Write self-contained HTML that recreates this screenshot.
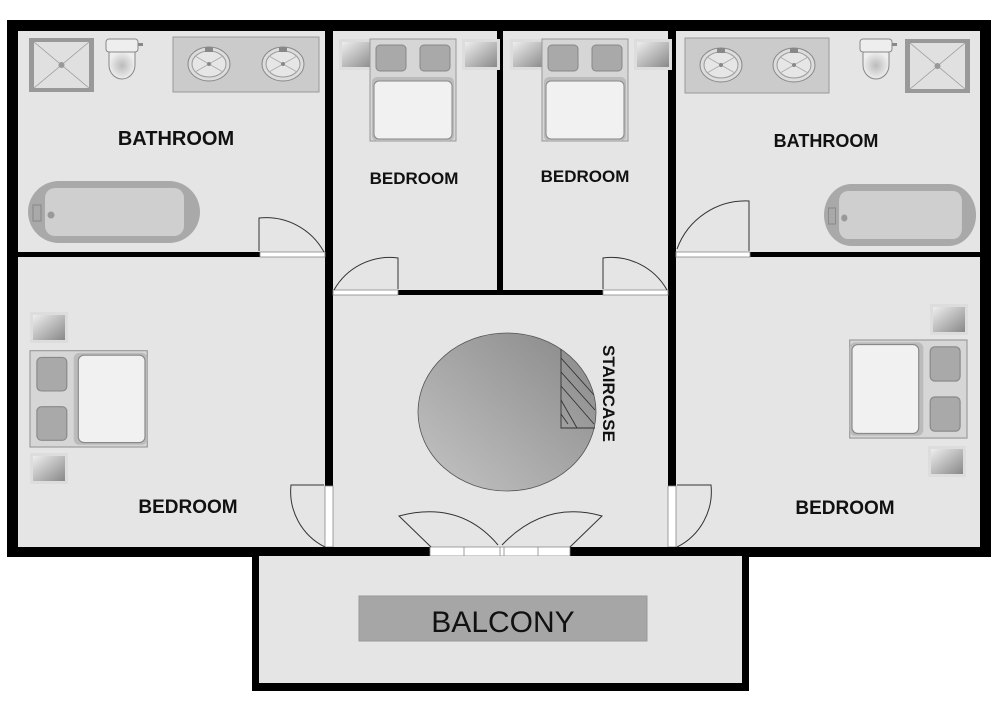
<!DOCTYPE html>
<html><head><meta charset="utf-8"><style>
html,body{margin:0;padding:0;background:#fff;width:1000px;height:704px;overflow:hidden}
svg{display:block}
text{font-family:"Liberation Sans",sans-serif;font-weight:bold;fill:#111}
</style></head><body>
<svg width="1000" height="704" viewBox="0 0 1000 704" xmlns="http://www.w3.org/2000/svg">
<defs>
<linearGradient id="st" x1="1" y1="0" x2="0" y2="1"><stop offset="0" stop-color="#888"/><stop offset="1" stop-color="#c4c4c4"/></linearGradient>
<linearGradient id="nt" x1="0" y1="0" x2="1" y2="1"><stop offset="0" stop-color="#eee"/><stop offset="1" stop-color="#888"/></linearGradient>
<radialGradient id="wc"><stop offset="0" stop-color="#bbb"/><stop offset="1" stop-color="#eee"/></radialGradient>
<g id="sink"><ellipse cx="0" cy="0" rx="21" ry="17" fill="#ddd" stroke="#888"/><ellipse cx="0" cy="0" rx="17" ry="13" fill="#e6e6e6" stroke="#999"/><path d="M-14,-8 L14,8 M-14,8 L14,-8" stroke="#aaa" stroke-width="0.8"/><circle r="2" fill="#888"/><rect x="-4" y="-17" width="8" height="5" fill="#888"/></g>
<g id="shower"><rect x="0" y="0" width="65" height="54" fill="#999"/><rect x="5" y="4" width="55" height="46" fill="#e0e0e0"/><path d="M5,4 L60,50 M60,4 L5,50" stroke="#999" stroke-width="0.8"/><circle cx="32.5" cy="27" r="3" fill="#999"/></g>
<g id="toilet"><rect x="-16" y="0" width="32" height="13" rx="3" fill="#eee" stroke="#888"/><path d="M-13,13 L-13,26 A13,14 0 0 0 13,26 L13,13 Z" fill="url(#wc)" stroke="#888"/><rect x="16" y="4" width="5" height="3" fill="#888"/></g>
<g id="tub"><rect x="0" y="0" width="172" height="62" rx="31" fill="#a9a9a9"/><rect x="17" y="7" width="139" height="48" rx="10" fill="#cfcfcf"/><rect x="5" y="24" width="8" height="16" fill="none" stroke="#888"/><circle cx="23" cy="34" r="3.5" fill="#999"/></g>
<g id="bedV"><rect x="0" y="0" width="86" height="102" fill="#d6d6d6" stroke="#999"/><rect x="6" y="6" width="30" height="26" rx="4" fill="#a9a9a9" stroke="#888"/><rect x="50" y="6" width="30" height="26" rx="4" fill="#a9a9a9" stroke="#888"/><rect x="2" y="38" width="82" height="64" rx="5" fill="#bbb"/><rect x="4" y="42" width="78" height="58" rx="5" fill="#f1f1f1" stroke="#888"/></g>
<g id="night"><rect x="0" y="0" width="38" height="31" fill="#ddd"/><rect x="3" y="3" width="32" height="25" fill="url(#nt)"/></g>
</defs>
<rect x="7" y="20" width="984" height="537" fill="#000"/>
<rect x="18" y="31" width="962" height="516" fill="#e6e5e6"/>
<rect x="325" y="31" width="8" height="455" fill="#000"/>
<rect x="497" y="31" width="6" height="262" fill="#000"/>
<rect x="668" y="31" width="8" height="455" fill="#000"/>
<rect x="18" y="252" width="242" height="5" fill="#000"/>
<rect x="750" y="252" width="230" height="5" fill="#000"/>
<rect x="398" y="290" width="205" height="5" fill="#000"/>
<g fill="#fff" stroke="#888" stroke-width="0.8">
<rect x="260" y="252" width="65" height="5"/><rect x="676" y="252" width="74" height="5"/>
<rect x="333" y="290" width="65" height="5"/><rect x="603" y="290" width="65" height="5"/>
<rect x="325" y="486" width="8" height="61"/><rect x="668" y="486" width="8" height="61"/>
</g>
<rect x="8" y="547" width="422" height="9" fill="#000"/><rect x="570" y="547" width="421" height="9" fill="#000"/>
<rect x="430" y="547" width="140" height="9" fill="#fff" stroke="#888" stroke-width="0.8"/>
<path d="M464,547v9M500,547v9M504,547v9M538,547v9" stroke="#888" stroke-width="0.8"/>
<g fill="none" stroke="#333" stroke-width="1">
<path d="M259,251 V218 A66,66 0 0 1 324,252"/>
<path d="M749,251 V201 A73,73 0 0 0 677,249"/>
<path d="M398,289 V258 A64,64 0 0 0 334,290"/>
<path d="M603,289 V258 A64,64 0 0 1 667,290"/>
<path d="M324,485 H291 A62,62 0 0 0 325,547"/>
<path d="M677,485 H711 A62,62 0 0 1 677,547"/>
<path d="M431,547 L399,516 Q460,500 498,545"/>
<path d="M570,547 L602,516 Q545,500 502,545"/>
</g>
<rect x="252" y="556" width="497" height="135" fill="#000"/>
<rect x="259" y="556" width="483" height="127" fill="#e6e5e6"/>
<rect x="359" y="596" width="288" height="45" fill="#a6a6a6" stroke="#999"/>
<text x="503" y="632" text-anchor="middle" font-size="30" style="font-weight:normal">BALCONY</text>
<ellipse cx="507" cy="412" rx="89" ry="79" fill="url(#st)" stroke="#555" stroke-width="0.8"/>
<g stroke="#333" stroke-width="0.9" fill="none"><path d="M561,349 V428 H595"/><path d="M561,358 L594,395 M561,372 L595,410 M561,386 L594,424 M561,400 L577,428 M561,414 L568,424"/></g>
<text transform="translate(603,345) rotate(90)" font-size="17">STAIRCASE</text>
<use href="#shower" x="29" y="38"/>
<use href="#toilet" x="122" y="39"/>
<rect x="173" y="37" width="146" height="55" fill="#cbcbcb" stroke="#999"/>
<use href="#sink" x="209" y="64"/><use href="#sink" x="283" y="64"/>
<use href="#tub" x="28" y="181"/>
<text x="176" y="145" text-anchor="middle" font-size="20">BATHROOM</text>
<use href="#shower" x="905" y="39"/>
<use href="#toilet" x="876" y="39"/>
<rect x="685" y="38" width="144" height="55" fill="#cbcbcb" stroke="#999"/>
<use href="#sink" x="721" y="65"/><use href="#sink" x="794" y="65"/>
<g transform="translate(824,184) scale(0.884,1)"><use href="#tub"/></g>
<text x="826" y="147" text-anchor="middle" font-size="18">BATHROOM</text>
<use href="#night" x="339" y="39"/><use href="#bedV" x="370" y="39"/><use href="#night" x="462" y="39"/>
<use href="#night" x="510" y="39"/><use href="#bedV" x="542" y="39"/><use href="#night" x="634" y="39"/>
<text x="414" y="184" text-anchor="middle" font-size="17">BEDROOM</text>
<text x="585" y="182" text-anchor="middle" font-size="17">BEDROOM</text>
<g transform="translate(30,447) rotate(-90)"><use href="#bedV" x="0" y="0" transform="scale(1.12,1.15)"/></g>
<use href="#night" x="30" y="312"/><use href="#night" x="30" y="453"/>
<text x="188" y="513" text-anchor="middle" font-size="19">BEDROOM</text>
<g transform="translate(967,340) rotate(90)"><use href="#bedV" x="0" y="0" transform="scale(1.14,1.15)"/></g>
<use href="#night" x="930" y="304"/><use href="#night" x="928" y="446"/>
<text x="845" y="514" text-anchor="middle" font-size="19">BEDROOM</text>
</svg>
</body></html>
